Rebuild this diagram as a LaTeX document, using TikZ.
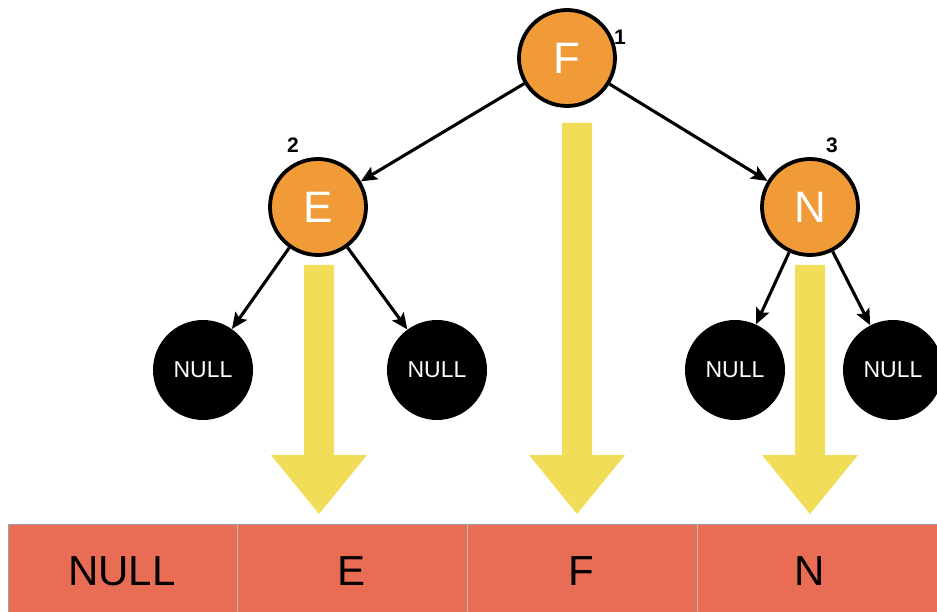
\documentclass[tikz,border=0pt]{standalone}
\usepackage{fontspec}
\setmainfont{Liberation Sans}
\usetikzlibrary{arrows.meta,positioning}
\definecolor{KeyOrange}{HTML}{F09B38}
\definecolor{ScanYellow}{HTML}{F2DD59}
\definecolor{CellRed}{HTML}{E96D55}
\definecolor{CellLine}{HTML}{A0A0A0}

\begin{document}
\begin{tikzpicture}[x=1pt,y=-1pt,
          key/.style={circle,draw=black,fill=KeyOrange,line width=3.8pt,
                      minimum size=96pt,inner sep=0pt,text=white,
                      font=\fontsize{44}{44}\selectfont},
          nil/.style={circle,fill=black,minimum size=100pt,inner sep=0pt,
                      text=white,font=\fontsize{23}{23}\selectfont},
          edge/.style={-{Stealth[length=16pt,width=14pt,inset=3pt]},line width=3.1pt},
          order/.style={font=\bfseries\fontsize{21}{21}\selectfont},
          scan/.style={fill=ScanYellow},
          slot/.style={text=black,font=\fontsize{42}{42}\selectfont}]
        \useasboundingbox (0,0) rectangle (937,612);
        % Output array filled by the in-order walk.
        \fill[CellRed] (8,524) rectangle (940,615);
        \draw[CellLine,line width=1pt] (940,524) -- (8,524) -- (8,615);
        \foreach \x in {237,467,697}{%
          \draw[CellLine!70,line width=0.6pt] (\x,524) -- (\x,615);
        }
        \foreach \i/\x/\txt in {1/122/NULL,2/352/E,3/581/F,4/810/N}{%
          \node[slot] (slot\i) at (\x,571) {\txt};
        }
        % Yellow arrows drop each key into its slot.
        \foreach \x/\top in {319/265,577/123,810/265}{%
          \fill[scan] (\x-15,\top) -- (\x+15,\top) -- (\x+15,455)
            -- (\x+48,455) -- (\x,514) -- (\x-48,455) -- (\x-15,455) -- cycle;
        }
        \node[key] (root) at (567,58) {F};
        \node[key] (left) at (318,207) {E};
        \node[key] (right) at (810,207) {N};
        \node[order] (rootnum) at (620,37) {1};
        \node[order] (leftnum) at (293,145) {2};
        \node[order] (rightnum) at (832,145) {3};
        \node[nil] (nilA) at (203,370) {NULL};
        \node[nil] (nilB) at (437,370) {NULL};
        \node[nil] (nilC) at (735,370) {NULL};
        \node[nil] (nilD) at (893,370) {NULL};
        \draw[edge] (root) -- (left);
        \draw[edge] (root) -- (right);
        \draw[edge] (left) -- (nilA);
        \draw[edge] (left) -- (nilB);
        \draw[edge] (right) -- (nilC);
        \draw[edge] (right) -- (nilD);
      \end{tikzpicture}
\end{document}
